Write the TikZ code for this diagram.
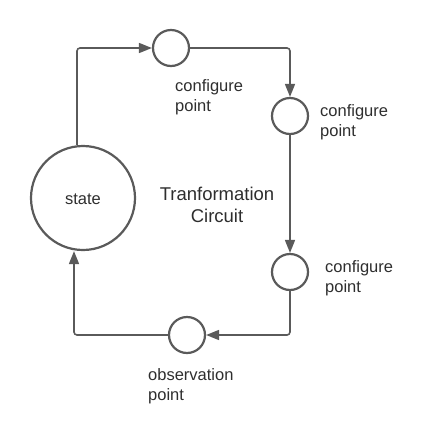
\documentclass[tikz,border=0pt]{standalone}
\usepackage{fontspec}
\setmainfont{Liberation Sans}
\usetikzlibrary{positioning}
\usetikzlibrary{arrows.meta}
\usepackage{xcolor}

\definecolor{linegray}{HTML}{5A5A5A}
\definecolor{textgray}{HTML}{2E2E2E}

\tikzset{
point/.style={circle, draw=linegray, line width=2.2pt, minimum size=36pt, inner sep=0pt},
flow/.style={draw=linegray, line width=1.6pt, rounded corners=3pt, -{Triangle[length=13pt,width=10pt]}},
lbl/.style={text=textgray, align=left, inner sep=0pt, font=\fontsize{16.5}{20}\selectfont},
}

\begin{document}
\begin{tikzpicture}[x=1pt, y=-1pt]

\useasboundingbox (0,0) rectangle (437,440);

% circles
{
\node[point, minimum size=104pt] (state) at (83,198) {};
\node[point] (c1) at (171,48) {};
\node[point] (c2) at (290,116) {};
\node[point] (c3) at (290,272) {};
\node[point] (obs) at (187,335) {};
}

% connectors
{
\draw[flow] ([xshift=-6pt]state.north) |- (c1);
\draw[flow] (c1) -| (c2);
\draw[flow] (c2) -- (c3);
\draw[flow] (c3) |- (obs);
\draw[flow] (obs) -| ([xshift=-9pt]state.south);
}

% nodes
{
\node[lbl, anchor=base] (statetext) at (83,204) {state};
\node[lbl, align=center, anchor=north, font=\fontsize{18.5}{22}\selectfont] (circuit) at (217,186.5) {Tranformation\\Circuit};

\node[lbl, anchor=north west] (c1text) at (175,79) {configure\\point};
\node[lbl, anchor=north west] (c2text) at (320,104) {configure\\point};
\node[lbl, anchor=north west] (c3text) at (325,260) {configure\\point};
\node[lbl, anchor=north west] (obstext) at (148,368) {observation\\point};
}

\end{tikzpicture}
\end{document}
